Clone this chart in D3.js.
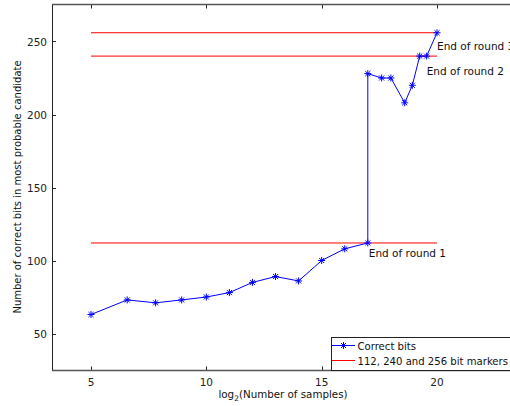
<!DOCTYPE html>
<html><head><meta charset="utf-8">
<script src="https://cdn.jsdelivr.net/npm/d3@7"></script>
<style>html,body{margin:0;padding:0;background:#fff;overflow:hidden}svg{display:block}</style>
</head><body>
<script>
const xValues = [5, 6.57, 7.8, 8.93, 10, 11, 12, 13, 14, 15, 16, 17, 17, 17.6, 18, 18.6, 18.93, 19.25, 19.55, 20];
const correctBits = [63, 73, 71, 73, 75, 78, 85, 89, 86, 100, 108, 112, 228, 225, 225, 208, 220, 240, 240, 256];
const markerValues = [112, 240, 256];
const markerRange = [5, 20];
const xTicks = [5, 10, 15, 20];
const yTicks = [50, 100, 150, 200, 250];
const annotations = [
  {text: "End of round 1", x: 17, y: 112, dx: 1, dy: 14},
  {text: "End of round 2", x: 19.25, y: 240, dx: 7, dy: 19},
  {text: "End of round 3", x: 20, y: 256, dx: 0, dy: 17}
];
const legendLabels = ["Correct bits", "112, 240 and 256 bit markers"];

(function () {
const W = 510, H = 406;
const font = "DejaVu Sans, sans-serif";
const svg = d3.select("body").append("svg").attr("width", W).attr("height", H);

const x = d3.scaleLinear().domain([5, 20]).range([91, 437]);
const y = d3.scaleLinear().domain([25, 275]).range([370, 5]);
const pLeft = 52, pRight = 540, pTop = 4.5, pBottom = 370.5;

const tickLen = 4;
const axisColor = "#222";
const g = svg.append("g");
xTicks.forEach(t => {
  const px = Math.round(x(t)) + 0.5;
  g.append("line").attr("x1", px).attr("x2", px).attr("y1", pBottom).attr("y2", pBottom - tickLen).attr("stroke", axisColor);
  g.append("line").attr("x1", px).attr("x2", px).attr("y1", pTop).attr("y2", pTop + tickLen).attr("stroke", axisColor);
  g.append("text").attr("x", x(t)).attr("y", 386).attr("text-anchor", "middle")
    .attr("font-family", font).attr("font-size", 10.5).attr("fill", "#222").text(t);
});
yTicks.forEach(t => {
  const py = Math.round(y(t)) + 0.5;
  g.append("line").attr("x1", pLeft).attr("x2", pLeft + tickLen).attr("y1", py).attr("y2", py).attr("stroke", axisColor);
  g.append("text").attr("x", 47).attr("y", y(t) + 4).attr("text-anchor", "end")
    .attr("font-family", font).attr("font-size", 10.5).attr("fill", "#222").text(t);
});

g.append("line").attr("x1", pLeft + 0.5).attr("x2", pLeft + 0.5).attr("y1", pTop).attr("y2", pBottom).attr("stroke", axisColor);
g.append("line").attr("x1", pLeft).attr("x2", pRight).attr("y1", pTop).attr("y2", pTop).attr("stroke", "#555").attr("stroke-width", 1.5);
g.append("line").attr("x1", pLeft).attr("x2", pRight).attr("y1", pBottom).attr("y2", pBottom).attr("stroke", "#555").attr("stroke-width", 1.5);

markerValues.forEach(v => {
  svg.append("line").attr("x1", x(markerRange[0])).attr("x2", x(markerRange[1]))
    .attr("y1", y(v)).attr("y2", y(v)).attr("stroke", "#ff0000").attr("stroke-width", 1);
});

const pts = xValues.map((v, i) => [x(v), y(correctBits[i])]);
svg.append("path").attr("d", d3.line()(pts)).attr("fill", "none").attr("stroke", "#0000ff").attr("stroke-width", 1);

function star(sel, cx, cy, r, color) {
  const d = r * 0.72;
  const p = `M${cx - r},${cy}L${cx + r},${cy}M${cx},${cy - r}L${cx},${cy + r}M${cx - d},${cy - d}L${cx + d},${cy + d}M${cx - d},${cy + d}L${cx + d},${cy - d}`;
  sel.append("path").attr("d", p).attr("stroke", color).attr("stroke-width", 1).attr("fill", "none");
}
pts.forEach(p => star(svg, p[0], p[1], 3.5, "#0000ff"));

annotations.forEach(a => {
  svg.append("text").attr("x", x(a.x) + a.dx).attr("y", y(a.y) + a.dy)
    .attr("font-family", font).attr("font-size", 10.5).attr("fill", "#111").text(a.text);
});

const xl = svg.append("text").attr("x", 283).attr("y", 398).attr("text-anchor", "middle")
  .attr("font-family", font).attr("font-size", 10.3).attr("fill", "#111");
xl.append("tspan").text("log");
xl.append("tspan").attr("font-size", 7.5).attr("dy", 3).text("2");
xl.append("tspan").attr("dy", -3).text("(Number of samples)");

svg.append("text").attr("transform", "translate(21,187) rotate(-90)").attr("text-anchor", "middle")
  .attr("font-family", font).attr("font-size", 10).attr("fill", "#111")
  .text("Number of correct bits in most probable candidate");

const lg = svg.append("g");
lg.append("rect").attr("x", 331.5).attr("y", 337.5).attr("width", 200).attr("height", 33)
  .attr("fill", "#fff").attr("stroke", "#222").attr("stroke-width", 1);
const lgY = [345.5, 360.5];
lg.append("line").attr("x1", 332).attr("x2", 355).attr("y1", lgY[0]).attr("y2", lgY[0]).attr("stroke", "#0000ff");
star(lg, 343.5, lgY[0], 3.5, "#0000ff");
lg.append("line").attr("x1", 332).attr("x2", 355).attr("y1", lgY[1]).attr("y2", lgY[1]).attr("stroke", "#ff0000");
legendLabels.forEach((t, i) => {
  lg.append("text").attr("x", 357.5).attr("y", lgY[i] + 4).attr("font-family", font)
    .attr("font-size", 10.1).attr("fill", "#111").text(t);
});
})();
</script>
</body></html>
